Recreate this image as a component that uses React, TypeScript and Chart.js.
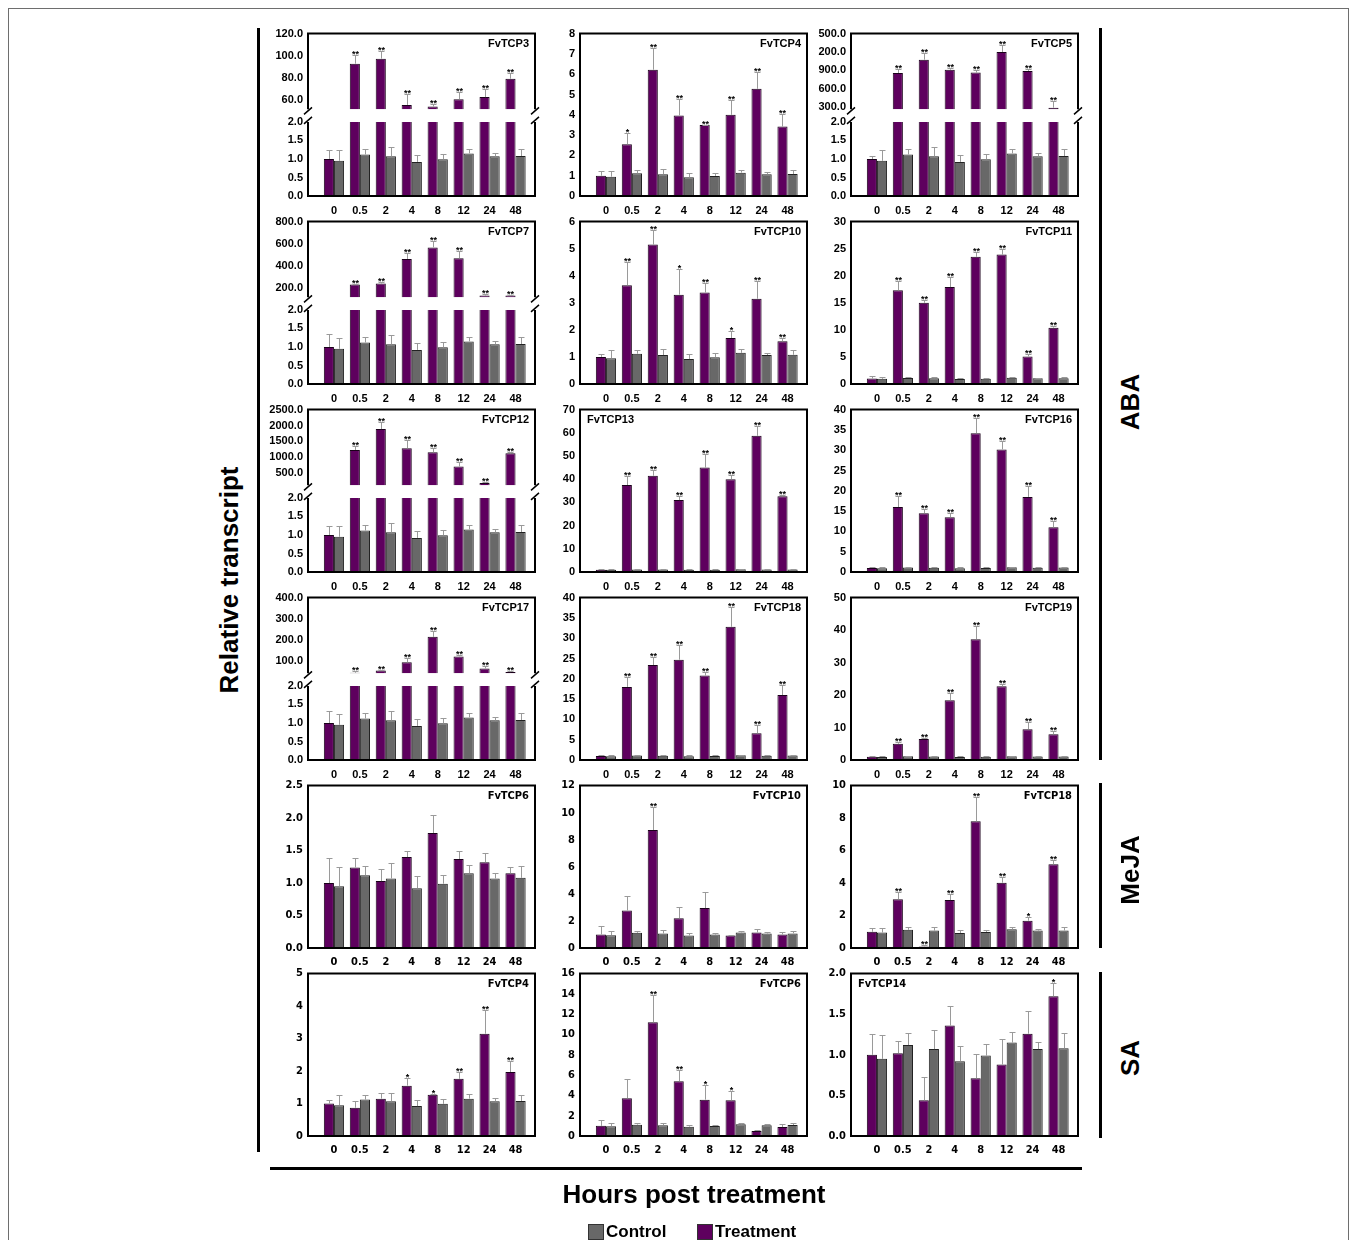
import React, { useEffect, useRef } from "react";
import { Chart, registerables } from "chart.js";

Chart.register(...registerables);

// ---------------- data ----------------
const hours = ["0", "0.5", "2", "4", "8", "12", "24", "48"];

const controlMean = [0.95, 1.12, 1.07, 0.92, 0.99, 1.15, 1.07, 1.08];
const controlUpper = [1.25, 1.27, 1.31, 1.11, 1.13, 1.28, 1.16, 1.27];

const sigAll = ["", "**", "**", "**", "**", "**", "**", "**"];
const sigNone = ["", "", "", "", "", "", "", ""];

const ticksBreakLow = [0, 0.5, 1, 1.5, 2];

// ABA
const abaTcp3Mean = [1.0, 93, 97.5, 56, 54.5, 61, 63, 79.5];
const abaTcp3Upper = [1.25, 101, 104, 66, 57, 68, 70, 85];
const abaTcp3TopRange = [52, 120];
const abaTcp3TopTicks = [60, 80, 100, 120];

const abaTcp4Mean = [1.0, 2.55, 6.22, 3.97, 3.5, 4.0, 5.28, 3.42];
const abaTcp4Upper = [1.23, 3.12, 7.28, 4.8, 3.52, 4.75, 6.1, 4.05];
const abaTcp4Sig = ["", "*", "**", "**", "**", "**", "**", "**"];
const abaTcp4Ticks = [0, 1, 2, 3, 4, 5, 6, 7, 8];

const abaTcp5Mean = [1.0, 858, 1074, 910, 863, 1200, 890, 290];
const abaTcp5Upper = [1.08, 926, 1179, 942, 905, 1321, 926, 395];
const abaTcp5TopRange = [263, 1500];
const abaTcp5TopTicks = [300, 600, 900, 1200, 1500];
const abaTcp5TopLabels = ["300.0", "600.0", "900.0", "200.0", "500.0"];

const abaTcp7Mean = [1.0, 227, 236, 460, 565, 466, 126, 126];
const abaTcp7Upper = [1.35, 236, 251, 511, 619, 529, 140, 133];
const abaTcp7TopRange = [110, 800];
const abaTcp7TopTicks = [200, 400, 600, 800];

const abaTcp10Mean = [1.0, 3.65, 5.15, 3.3, 3.38, 1.7, 3.15, 1.58];
const abaTcp10Upper = [1.12, 4.5, 5.68, 4.25, 3.75, 1.97, 3.8, 1.7];
const abaTcp10Sig = ["", "**", "**", "*", "**", "*", "**", "**"];
const abaTcp10Ticks = [0, 1, 2, 3, 4, 5, 6];

const abaTcp11Mean = [1.0, 17.3, 15.0, 17.9, 23.5, 23.9, 5.1, 10.4];
const abaTcp11Upper = [1.4, 19.0, 15.6, 19.8, 24.4, 25.0, 5.5, 10.8];
const abaTcp11Ticks = [0, 5, 10, 15, 20, 25, 30];

const abaTcp12Mean = [1.0, 1231, 1888, 1281, 1156, 709, 188, 1125];
const abaTcp12Upper = [1.25, 1356, 2116, 1544, 1303, 844, 219, 1178];
const abaTcp12TopRange = [116, 2500];
const abaTcp12TopTicks = [500, 1000, 1500, 2000, 2500];

const abaTcp13Mean = [1.0, 37.5, 41.5, 31.0, 45.0, 40.0, 58.7, 32.7];
const abaTcp13Upper = [1.1, 41.2, 44.0, 32.7, 50.7, 42.0, 63.0, 33.2];
const abaTcp13Ticks = [0, 10, 20, 30, 40, 50, 60, 70];

const abaTcp16Mean = [1.0, 16.0, 14.5, 13.5, 34.2, 30.2, 18.5, 11.0];
const abaTcp16Upper = [1.2, 18.7, 15.5, 14.5, 38.0, 32.2, 21.2, 12.6];
const abaTcp16Ticks = [0, 5, 10, 15, 20, 25, 30, 35, 40];

const abaTcp17Mean = [1.0, 46, 57, 95, 215, 123, 66, 49];
const abaTcp17Upper = [1.32, 54, 61, 116, 241, 131, 80, 54];
const abaTcp17TopRange = [43, 400];
const abaTcp17TopTicks = [100, 200, 300, 400];

const abaTcp18Mean = [1.0, 18.0, 23.4, 24.7, 20.8, 32.8, 6.6, 16.0];
const abaTcp18Upper = [1.2, 20.5, 25.3, 28.4, 21.7, 37.7, 8.6, 18.5];
const abaTcp18Ticks = [0, 5, 10, 15, 20, 25, 30, 35, 40];

const abaTcp19Mean = [1.0, 5.0, 6.5, 18.4, 37.2, 22.7, 9.5, 7.9];
const abaTcp19Upper = [1.1, 5.6, 6.7, 20.7, 41.2, 23.3, 11.8, 8.9];
const abaTcp19Ticks = [0, 10, 20, 30, 40, 50];

// MeJA
const mejaTcp6Mean = [1.0, 1.24, 1.03, 1.4, 1.77, 1.37, 1.32, 1.15];
const mejaTcp6Upper = [1.38, 1.38, 1.21, 1.5, 2.05, 1.49, 1.46, 1.24];
const mejaTcp6Ticks = [0, 0.5, 1, 1.5, 2, 2.5];

const mejaTcp10Mean = [1.0, 2.78, 8.72, 2.2, 2.95, 0.92, 1.15, 1.0];
const mejaTcp10Upper = [1.62, 3.85, 10.45, 3.0, 4.15, 0.98, 1.42, 1.2];
const mejaTcp10Sig = ["", "", "**", "", "", "", "", ""];
const mejaTcp10Ticks = [0, 2, 4, 6, 8, 10, 12];

const mejaTcp18Mean = [1.0, 3.0, 0.1, 2.95, 7.8, 4.02, 1.68, 5.15];
const mejaTcp18Upper = [1.22, 3.45, 0.18, 3.32, 9.3, 4.35, 1.88, 5.4];
const mejaTcp18Sig = ["", "**", "**", "**", "**", "**", "*", "**"];
const mejaTcp18Ticks = [0, 2, 4, 6, 8, 10];

// SA
const saTcp4Mean = [1.0, 0.87, 1.15, 1.55, 1.27, 1.76, 3.15, 1.97];
const saTcp4Upper = [1.1, 1.07, 1.32, 1.78, 1.3, 1.97, 3.88, 2.3];
const saTcp4Sig = ["", "", "", "*", "*", "**", "**", "**"];
const saTcp4Ticks = [0, 1, 2, 3, 4, 5];

const saTcp6Mean = [1.0, 3.72, 11.2, 5.4, 3.58, 3.52, 0.5, 0.88];
const saTcp6Upper = [1.55, 5.65, 13.9, 6.5, 5.0, 4.48, 0.55, 1.18];
const saTcp6Sig = ["", "", "**", "**", "*", "*", "", ""];
const saTcp6Ticks = [0, 2, 4, 6, 8, 10, 12, 14, 16];

const saTcp14Mean = [1.0, 1.02, 0.44, 1.36, 0.71, 0.88, 1.26, 1.72];
const saTcp14Upper = [1.26, 1.17, 0.73, 1.6, 1.01, 1.2, 1.54, 1.88];
const saTcp14Sig = ["", "", "", "", "", "", "", "*"];
const saTcp14Ticks = [0, 0.5, 1, 1.5, 2];

// ---------------- styles / layout ----------------
const PURPLE = "#5e005e";
const GRAY = "#686868";
const ERR = "#9a9a9a";
const ARIAL = '"Liberation Sans", Arial, Helvetica, sans-serif';
const NARROW = '"Liberation Sans Narrow", "Arial Narrow", "DejaVu Sans Condensed", sans-serif';

const COL_X = [308, 580, 851];
const ROW_Y = [32, 220, 408, 596, 784, 972];
const AREA_W = 227;
const AREA_H = 164;
const PAD_L = 56;
const PAD_T = 10;
const PAD_R = 8;
const PAD_B = 24;
const CW = PAD_L + AREA_W + PAD_R;
const CH = PAD_T + AREA_H + PAD_B;
const X_MIN = -1.0;
const X_MAX = 7.75;
const W_TOP = 76.7;
const W_GAP = 12.7;
const W_BOT = 75;
const OFF = 9; // frame origin offset (body margin + border)
const BIG = 26;

type PanelDef = {
  title: string;
  row: number;
  col: number;
  mean: number[];
  upper: number[];
  sig: string[];
  ticks?: number[];
  dec?: number;
  topRange?: number[];
  topTicks?: number[];
  topLabels?: string[];
  titleLeft?: boolean;
  narrow?: boolean;
};

const panels: PanelDef[] = [
  { title: "FvTCP3", row: 0, col: 0, mean: abaTcp3Mean, upper: abaTcp3Upper, sig: sigAll, topRange: abaTcp3TopRange, topTicks: abaTcp3TopTicks },
  { title: "FvTCP4", row: 0, col: 1, mean: abaTcp4Mean, upper: abaTcp4Upper, sig: abaTcp4Sig, ticks: abaTcp4Ticks, dec: 0 },
  { title: "FvTCP5", row: 0, col: 2, mean: abaTcp5Mean, upper: abaTcp5Upper, sig: sigAll, topRange: abaTcp5TopRange, topTicks: abaTcp5TopTicks, topLabels: abaTcp5TopLabels },
  { title: "FvTCP7", row: 1, col: 0, mean: abaTcp7Mean, upper: abaTcp7Upper, sig: sigAll, topRange: abaTcp7TopRange, topTicks: abaTcp7TopTicks },
  { title: "FvTCP10", row: 1, col: 1, mean: abaTcp10Mean, upper: abaTcp10Upper, sig: abaTcp10Sig, ticks: abaTcp10Ticks, dec: 0 },
  { title: "FvTCP11", row: 1, col: 2, mean: abaTcp11Mean, upper: abaTcp11Upper, sig: sigAll, ticks: abaTcp11Ticks, dec: 0 },
  { title: "FvTCP12", row: 2, col: 0, mean: abaTcp12Mean, upper: abaTcp12Upper, sig: sigAll, topRange: abaTcp12TopRange, topTicks: abaTcp12TopTicks },
  { title: "FvTCP13", row: 2, col: 1, mean: abaTcp13Mean, upper: abaTcp13Upper, sig: sigAll, ticks: abaTcp13Ticks, dec: 0, titleLeft: true },
  { title: "FvTCP16", row: 2, col: 2, mean: abaTcp16Mean, upper: abaTcp16Upper, sig: sigAll, ticks: abaTcp16Ticks, dec: 0 },
  { title: "FvTCP17", row: 3, col: 0, mean: abaTcp17Mean, upper: abaTcp17Upper, sig: sigAll, topRange: abaTcp17TopRange, topTicks: abaTcp17TopTicks },
  { title: "FvTCP18", row: 3, col: 1, mean: abaTcp18Mean, upper: abaTcp18Upper, sig: sigAll, ticks: abaTcp18Ticks, dec: 0 },
  { title: "FvTCP19", row: 3, col: 2, mean: abaTcp19Mean, upper: abaTcp19Upper, sig: sigAll, ticks: abaTcp19Ticks, dec: 0 },
  { title: "FvTCP6", row: 4, col: 0, mean: mejaTcp6Mean, upper: mejaTcp6Upper, sig: sigNone, ticks: mejaTcp6Ticks, dec: 1, narrow: true },
  { title: "FvTCP10", row: 4, col: 1, mean: mejaTcp10Mean, upper: mejaTcp10Upper, sig: mejaTcp10Sig, ticks: mejaTcp10Ticks, dec: 0, narrow: true },
  { title: "FvTCP18", row: 4, col: 2, mean: mejaTcp18Mean, upper: mejaTcp18Upper, sig: mejaTcp18Sig, ticks: mejaTcp18Ticks, dec: 0, narrow: true },
  { title: "FvTCP4", row: 5, col: 0, mean: saTcp4Mean, upper: saTcp4Upper, sig: saTcp4Sig, ticks: saTcp4Ticks, dec: 0, narrow: true },
  { title: "FvTCP6", row: 5, col: 1, mean: saTcp6Mean, upper: saTcp6Upper, sig: saTcp6Sig, ticks: saTcp6Ticks, dec: 0, narrow: true },
  { title: "FvTCP14", row: 5, col: 2, mean: saTcp14Mean, upper: saTcp14Upper, sig: saTcp14Sig, ticks: saTcp14Ticks, dec: 1, titleLeft: true, narrow: true },
];

function makeConfig(def: PanelDef): any {
  const family = def.narrow ? NARROW : ARIAL;
  const tickFont = { family, size: 11, weight: "bold" as const };
  const broken = !!def.topRange;

  const yScale = (min: number, max: number, tickVals: number[], fmt: (v: number, i: number) => string, extra: any) => ({
    type: "linear",
    position: "left",
    min,
    max,
    stacked: false,
    ...extra,
    afterBuildTicks: (s: any) => {
      s.ticks = tickVals.map((v) => ({ value: v }));
    },
    afterFit: (s: any) => {
      s.width = PAD_L;
    },
    ticks: { autoSkip: false, padding: 5, font: tickFont, color: "#000", callback: (v: number, i: number) => fmt(v, i) },
    grid: { display: false, drawTicks: false },
    border: { display: false },
  });

  const scales: any = {
    x: {
      type: "linear",
      min: X_MIN,
      max: X_MAX,
      offset: false,
      afterBuildTicks: (s: any) => {
        s.ticks = hours.map((_, i) => ({ value: i }));
      },
      afterFit: (s: any) => {
        s.height = PAD_B;
      },
      ticks: { autoSkip: false, maxRotation: 0, padding: 8, font: tickFont, color: "#000", callback: (v: number) => hours[v] },
      grid: { display: false, drawTicks: false, offset: false },
      border: { display: false },
    },
  };

  const barBase = { categoryPercentage: 0.78, barPercentage: 1.0, borderWidth: 1 };
  let datasets: any[];

  if (broken) {
    const [tMin, tMax] = def.topRange as number[];
    const topTicks = def.topTicks as number[];
    const topLabels = def.topLabels;
    scales.yT = yScale(tMin, tMax, topTicks, (v, i) => (topLabels ? topLabels[i] : v.toFixed(1)), { stack: "v", stackWeight: W_TOP, weight: 3 });
    scales.yG = {
      type: "linear",
      position: "left",
      min: 0,
      max: 1,
      stack: "v",
      stackWeight: W_GAP,
      weight: 2,
      afterFit: (s: any) => {
        s.width = PAD_L;
      },
      ticks: { display: false },
      grid: { display: false, drawTicks: false },
      border: { display: false },
    };
    scales.yB = yScale(0, 2, ticksBreakLow, (v) => v.toFixed(1), { stack: "v", stackWeight: W_BOT, weight: 1 });
    datasets = [
      {
        ...barBase,
        label: "Treatment",
        data: def.mean,
        yAxisID: "yB",
        stack: "t",
        backgroundColor: PURPLE,
        borderColor: "#1a001a",
        upperVals: def.mean.map((m, i) => (m <= 2 ? def.upper[i] : null)),
        sigVals: def.mean.map((m, i) => (m <= 2 ? def.sig[i] : "")),
      },
      {
        ...barBase,
        label: "Control",
        data: controlMean,
        yAxisID: "yB",
        stack: "c",
        backgroundColor: GRAY,
        borderColor: "#222",
        upperVals: controlUpper,
        sigVals: sigNone,
      },
      {
        ...barBase,
        label: "Treatment (upper)",
        data: def.mean,
        yAxisID: "yT",
        stack: "t",
        backgroundColor: PURPLE,
        borderColor: "#1a001a",
        upperVals: def.mean.map((m, i) => (m > 2 ? def.upper[i] : null)),
        sigVals: def.mean.map((m, i) => (m > 2 ? def.sig[i] : "")),
      },
    ];
  } else {
    const tv = def.ticks as number[];
    const dec = def.dec ?? 0;
    scales.y = yScale(tv[0], tv[tv.length - 1], tv, (v) => v.toFixed(dec), {});
    datasets = [
      {
        ...barBase,
        label: "Treatment",
        data: def.mean,
        yAxisID: "y",
        stack: "t",
        backgroundColor: PURPLE,
        borderColor: "#1a001a",
        upperVals: def.upper,
        sigVals: def.sig,
      },
      {
        ...barBase,
        label: "Control",
        data: controlMean,
        yAxisID: "y",
        stack: "c",
        backgroundColor: GRAY,
        borderColor: "#222",
        upperVals: controlUpper,
        sigVals: sigNone,
      },
    ];
  }

  const deco = {
    id: "panelDeco",
    beforeDatasetDraw(chart: any, args: any) {
      const ys = args.meta.yScale;
      const ctx = chart.ctx;
      ctx.save();
      ctx.beginPath();
      ctx.rect(chart.chartArea.left - 2, ys.top, chart.chartArea.right - chart.chartArea.left + 4, ys.bottom - ys.top);
      ctx.clip();
    },
    afterDatasetDraw(chart: any) {
      chart.ctx.restore();
    },
    afterDatasetsDraw(chart: any) {
      const ctx = chart.ctx;
      ctx.save();
      chart.data.datasets.forEach((ds: any, di: number) => {
        const meta = chart.getDatasetMeta(di);
        const ups = ds.upperVals as (number | null)[];
        if (!ups) return;
        meta.data.forEach((el: any, i: number) => {
          const u = ups[i];
          if (u == null) return;
          const x = Math.round(el.x) + 0.5;
          const yb = el.y;
          const yt = Math.round(meta.yScale.getPixelForValue(u)) + 0.5;
          ctx.strokeStyle = ERR;
          ctx.lineWidth = 1;
          ctx.beginPath();
          ctx.moveTo(x, yb);
          ctx.lineTo(x, yt);
          ctx.moveTo(x - 3, yt);
          ctx.lineTo(x + 3, yt);
          ctx.stroke();
          const s = ds.sigVals && ds.sigVals[i];
          if (s) {
            ctx.fillStyle = "#000";
            ctx.font = `bold 9px ${ARIAL}`;
            ctx.textAlign = "center";
            ctx.textBaseline = "alphabetic";
            ctx.fillText(s, x, yt + 1);
          }
        });
      });
      ctx.restore();
    },
    afterDraw(chart: any) {
      const ctx = chart.ctx;
      const { left, right, top, bottom } = chart.chartArea;
      ctx.save();
      ctx.strokeStyle = "#000";
      ctx.lineWidth = 2;
      ctx.beginPath();
      ctx.moveTo(left - 1, top);
      ctx.lineTo(right + 1, top);
      ctx.moveTo(left - 1, bottom);
      ctx.lineTo(right + 1, bottom);
      if (broken) {
        const g = chart.scales.yG;
        for (const x of [left, right]) {
          ctx.moveTo(x, top);
          ctx.lineTo(x, g.top);
          ctx.moveTo(x, g.bottom);
          ctx.lineTo(x, bottom);
        }
      } else {
        ctx.moveTo(left, top);
        ctx.lineTo(left, bottom);
        ctx.moveTo(right, top);
        ctx.lineTo(right, bottom);
      }
      ctx.stroke();
      if (broken) {
        const g = chart.scales.yG;
        ctx.lineWidth = 1.5;
        ctx.beginPath();
        for (const x of [left, right]) {
          ctx.moveTo(x - 4, g.top + 5);
          ctx.lineTo(x + 4, g.top - 2);
          ctx.moveTo(x - 4, g.bottom + 2);
          ctx.lineTo(x + 4, g.bottom - 5);
        }
        ctx.stroke();
      }
      ctx.fillStyle = "#000";
      ctx.font = `bold 11px ${family}`;
      ctx.textBaseline = "alphabetic";
      if (def.titleLeft) {
        ctx.textAlign = "left";
        ctx.fillText(def.title, left + 7, top + 13);
      } else {
        ctx.textAlign = "right";
        ctx.fillText(def.title, right - 6, top + 13);
      }
      ctx.restore();
    },
  };

  return {
    type: "bar",
    data: { labels: hours.map((_, i) => i), datasets },
    options: {
      animation: false,
      responsive: false,
      devicePixelRatio: 1,
      layout: { padding: { left: 0, top: PAD_T, right: PAD_R, bottom: 0 } },
      plugins: { legend: { display: false }, tooltip: { enabled: false } },
      scales,
    },
    plugins: [deco],
  };
}

function Panel({ def }: { def: PanelDef }) {
  const ref = useRef<HTMLCanvasElement | null>(null);
  useEffect(() => {
    if (!ref.current) return;
    const chart = new Chart(ref.current, makeConfig(def));
    return () => chart.destroy();
  }, [def]);
  return (
    <canvas
      ref={ref}
      width={CW}
      height={CH}
      style={{
        position: "absolute",
        left: COL_X[def.col] - PAD_L - OFF,
        top: ROW_Y[def.row] - PAD_T - OFF,
        width: CW,
        height: CH,
      }}
    />
  );
}

const abs = (x: number, y: number, w: number, h: number, extra: any = {}) => ({
  position: "absolute" as const,
  left: x - OFF,
  top: y - OFF,
  width: w,
  height: h,
  ...extra,
});

const rotLabel = (text: string, cx: number, cy: number) => (
  <div
    style={{
      position: "absolute",
      left: cx - OFF,
      top: cy - OFF,
      transform: "translate(-50%, -50%) rotate(-90deg)",
      whiteSpace: "nowrap",
      fontWeight: "bold",
      fontSize: BIG,
      lineHeight: "30px",
      color: "#000",
    }}
  >
    {text}
  </div>
);

export default function App() {
  useEffect(() => {
    document.documentElement.style.overflow = "hidden";
    document.body.style.overflow = "hidden";
  }, []);
  return (
    <div
      style={{
        position: "relative",
        width: 1339,
        height: 1250,
        border: "1px solid #6e6e6e",
        background: "#fff",
        fontFamily: ARIAL,
      }}
    >
      {panels.map((p, k) => (
        <Panel key={k} def={p} />
      ))}
      <div style={abs(257, 28, 3, 1124, { background: "#000" })} />
      <div style={abs(270, 1167, 812, 3, { background: "#000" })} />
      <div style={abs(1099, 28, 3, 732, { background: "#000" })} />
      <div style={abs(1099, 783, 3, 165, { background: "#000" })} />
      <div style={abs(1099, 972, 3, 166, { background: "#000" })} />
      {rotLabel("Relative transcript", 229, 580)}
      {rotLabel("ABA", 1130, 402)}
      {rotLabel("MeJA", 1130, 870)}
      {rotLabel("SA", 1130, 1058)}
      <div
        style={{
          position: "absolute",
          left: 694 - OFF,
          top: 1194 - OFF,
          transform: "translate(-50%, -50%)",
          whiteSpace: "nowrap",
          fontWeight: "bold",
          fontSize: BIG,
          lineHeight: "30px",
        }}
      >
        Hours post treatment
      </div>
      <div style={abs(588, 1224, 14, 14, { background: GRAY, border: "1px solid #333" })} />
      <div style={abs(606, 1222, 90, 20, { fontWeight: "bold", fontSize: 17, lineHeight: "20px" })}>Control</div>
      <div style={abs(697, 1224, 14, 14, { background: PURPLE, border: "1px solid #333" })} />
      <div style={abs(715, 1222, 110, 20, { fontWeight: "bold", fontSize: 17, lineHeight: "20px" })}>Treatment</div>
    </div>
  );
}
